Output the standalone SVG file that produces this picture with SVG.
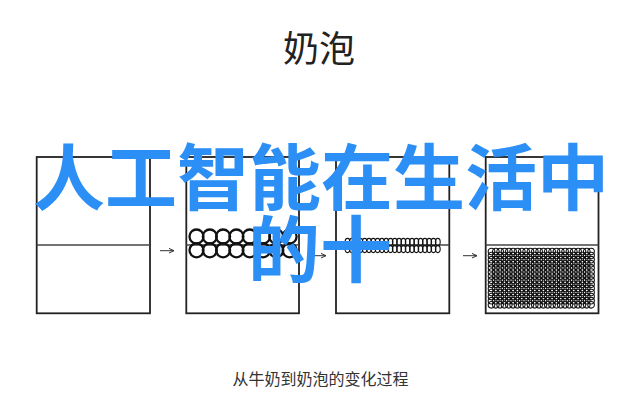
<svg xmlns="http://www.w3.org/2000/svg" xmlns:xlink="http://www.w3.org/1999/xlink" width="640" height="411" viewBox="0 0 640 411">
  <style>
    .box { fill: #fff; stroke: #222; stroke-width: 1.8; }
    .div { stroke: #444; stroke-width: 1.6; }
    .c2 { fill: none; stroke: #111; stroke-width: 2.3; }
    .c3 { fill: none; stroke: #111; stroke-width: 1.1; }
    .c4 { fill: none; stroke: #111; stroke-width: 1.1; }
    .arrow { stroke: #333; stroke-width: 1; fill: none; }
    .title { font-family: "Noto Sans CJK SC", "Noto Sans", sans-serif; font-size: 36px; fill: #222; text-anchor: middle; }
    .caption { font-family: "Noto Sans CJK SC", "Noto Sans", sans-serif; font-size: 16px; fill: #333; text-anchor: middle; }
    .overlay { font-family: "Noto Sans CJK SC", "Noto Sans", sans-serif; font-size: 72px; font-weight: bold; fill: #2b8ff5; text-anchor: middle; }
  </style>
  <defs>
    <marker id="ah" viewBox="0 0 6 6" refX="5.5" refY="3" markerWidth="6" markerHeight="6" markerUnits="userSpaceOnUse" orient="auto">
      <path d="M0,0.5 L5.5,3 L0,5.5" fill="none" stroke="#333" stroke-width="1"/>
    </marker>
    <g id="row2" class="c2">
      <circle cx="196.5" cy="0" r="7"/><circle cx="209.8" cy="0" r="7"/><circle cx="223.1" cy="0" r="7"/><circle cx="236.4" cy="0" r="7"/>
      <circle cx="249.7" cy="0" r="7"/><circle cx="263" cy="0" r="7"/><circle cx="276.3" cy="0" r="7"/><circle cx="289.6" cy="0" r="7"/>
    </g>
    <g id="row3" class="c3">
      <ellipse cx="347.5" cy="0" rx="2.4" ry="3.5"/><ellipse cx="351.8" cy="0" rx="2.4" ry="3.5"/><ellipse cx="356.1" cy="0" rx="2.4" ry="3.5"/><ellipse cx="360.4" cy="0" rx="2.4" ry="3.5"/>
      <ellipse cx="364.7" cy="0" rx="2.4" ry="3.5"/><ellipse cx="369" cy="0" rx="2.4" ry="3.5"/><ellipse cx="373.3" cy="0" rx="2.4" ry="3.5"/><ellipse cx="377.6" cy="0" rx="2.4" ry="3.5"/>
      <ellipse cx="381.9" cy="0" rx="2.4" ry="3.5"/><ellipse cx="386.2" cy="0" rx="2.4" ry="3.5"/><ellipse cx="390.5" cy="0" rx="2.4" ry="3.5"/><ellipse cx="394.8" cy="0" rx="2.4" ry="3.5"/>
      <ellipse cx="399.1" cy="0" rx="2.4" ry="3.5"/><ellipse cx="403.4" cy="0" rx="2.4" ry="3.5"/><ellipse cx="407.7" cy="0" rx="2.4" ry="3.5"/><ellipse cx="412" cy="0" rx="2.4" ry="3.5"/>
      <ellipse cx="416.3" cy="0" rx="2.4" ry="3.5"/><ellipse cx="420.6" cy="0" rx="2.4" ry="3.5"/><ellipse cx="424.9" cy="0" rx="2.4" ry="3.5"/><ellipse cx="429.2" cy="0" rx="2.4" ry="3.5"/>
      <ellipse cx="433.5" cy="0" rx="2.4" ry="3.5"/><ellipse cx="437.8" cy="0" rx="2.4" ry="3.5"/>
    </g>
    <g id="row4" class="c4">
      <circle cx="491.5" cy="0" r="3.3"/><circle cx="495.83" cy="0" r="3.3"/><circle cx="500.16" cy="0" r="3.3"/><circle cx="504.49" cy="0" r="3.3"/>
      <circle cx="508.82" cy="0" r="3.3"/><circle cx="513.15" cy="0" r="3.3"/><circle cx="517.48" cy="0" r="3.3"/><circle cx="521.81" cy="0" r="3.3"/>
      <circle cx="526.14" cy="0" r="3.3"/><circle cx="530.47" cy="0" r="3.3"/><circle cx="534.8" cy="0" r="3.3"/><circle cx="539.13" cy="0" r="3.3"/>
      <circle cx="543.46" cy="0" r="3.3"/><circle cx="547.79" cy="0" r="3.3"/><circle cx="552.12" cy="0" r="3.3"/><circle cx="556.45" cy="0" r="3.3"/>
      <circle cx="560.78" cy="0" r="3.3"/><circle cx="565.11" cy="0" r="3.3"/><circle cx="569.44" cy="0" r="3.3"/><circle cx="573.77" cy="0" r="3.3"/>
      <circle cx="578.1" cy="0" r="3.3"/><circle cx="582.43" cy="0" r="3.3"/><circle cx="586.76" cy="0" r="3.3"/><circle cx="591.09" cy="0" r="3.3"/>
    </g>
  </defs>

  <rect width="640" height="411" fill="#fff"/>

  <text id="title" class="title" x="319" y="62">奶泡</text>

  <g id="box1">
    <rect class="box" x="36.7" y="157" width="113.3" height="156.3"/>
    <line class="div" x1="36.7" y1="245" x2="150" y2="245"/>
  </g>

  <g id="box2">
    <rect class="box" x="186.3" y="157" width="112.7" height="156.3"/>
    <line class="div" x1="186.3" y1="245" x2="299" y2="245"/>
    <use xlink:href="#row2" href="#row2" transform="translate(0,236.5)"/>
    <use xlink:href="#row2" href="#row2" transform="translate(0,250.3)"/>
  </g>

  <g id="box3">
    <rect class="box" x="336" y="157" width="113.3" height="156.3"/>
    <line class="div" x1="336" y1="245" x2="449.3" y2="245"/>
    <use xlink:href="#row3" href="#row3" transform="translate(0,241.9)"/>
    <use xlink:href="#row3" href="#row3" transform="translate(0,249.1)"/>
  </g>

  <g id="box4">
    <rect class="box" x="485.7" y="157" width="112.8" height="156.3"/>
    <line class="div" x1="485.7" y1="245" x2="598.5" y2="245" stroke-width="2"/>
    <use href="#row4" transform="translate(0,251.5)"/>
    <use href="#row4" transform="translate(0,255.6)"/>
    <use href="#row4" transform="translate(0,259.7)"/>
    <use href="#row4" transform="translate(0,263.8)"/>
    <use href="#row4" transform="translate(0,267.9)"/>
    <use href="#row4" transform="translate(0,272)"/>
    <use href="#row4" transform="translate(0,276.1)"/>
    <use href="#row4" transform="translate(0,280.2)"/>
    <use href="#row4" transform="translate(0,284.3)"/>
    <use href="#row4" transform="translate(0,288.4)"/>
    <use href="#row4" transform="translate(0,292.5)"/>
    <use href="#row4" transform="translate(0,296.6)"/>
    <use href="#row4" transform="translate(0,300.7)"/>
    <use href="#row4" transform="translate(0,304.8)"/>
  </g>

  <g id="connectors">
    <line class="arrow" x1="160" y1="250.7" x2="174" y2="250.7" marker-end="url(#ah)"/>
    <line class="arrow" x1="312" y1="255.7" x2="326" y2="255.7" marker-end="url(#ah)"/>
    <line class="arrow" x1="463" y1="255.7" x2="477" y2="255.7" marker-end="url(#ah)"/>
  </g>

  <text id="caption" class="caption" x="320.5" y="385">从牛奶到奶泡的变化过程</text>

  <g id="overlay">
    <text class="overlay" x="321" y="204">人工智能在生活中</text>
    <text class="overlay" x="320" y="276">的十</text>
  </g>
</svg>
